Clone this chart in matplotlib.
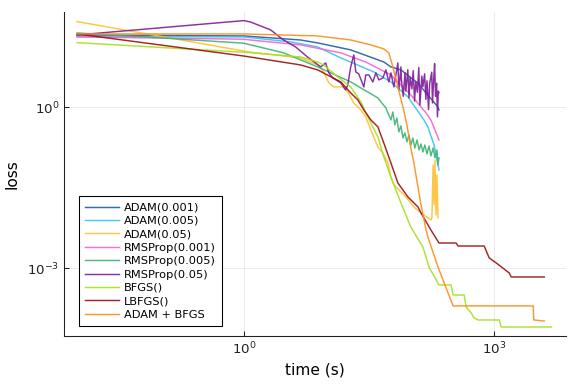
import numpy as np
import matplotlib.pyplot as plt
from matplotlib.ticker import NullLocator, LogFormatterMathtext

# values (time in s, loss)
adam1_t = [0.01, 1.0, 4.8, 7.7, 19.2, 48.0, 58.3, 76.9, 123, 214, 220]
adam1_l = [22.2, 21.3, 17.9, 15.8, 11.7, 6.96, 5.64, 4.96, 2.80, 1.01, 0.89]

adam2_t = [0.01, 1.0, 3.65, 7.7, 14.6, 36.4, 58.3, 93.3, 145, 162, 192, 220]
adam2_l = [20.7, 20.4, 16.5, 13.3, 8.29, 4.55, 2.96, 1.56, 0.58, 0.43, 0.198, 0.0679]

adam3_t = [0.01, 1.2, 4.8, 7.7, 9.08, 10.5, 12.0, 15.4, 17.7, 20.9, 25.4, 29.1,
           33.5, 40.7, 46.7, 53.6, 58.3, 63.3, 76.9, 88.3, 110, 134, 176, 181,
           187, 192, 197, 203, 208, 214]
adam3_l = [39.4, 10.6, 8.29, 6.14, 4.55, 2.84, 2.39, 2.39, 1.93, 1.20, 0.891, 0.659,
           0.378, 0.182, 0.141, 0.0917, 0.0503, 0.0357, 0.0264, 0.0213, 0.0139, 0.0107, 0.00795, 0.00866,
           0.0841, 0.0151, 0.104, 0.00985, 0.0548, 0.00866]

rms1_t = [0.01, 1.0, 1.2, 4.8, 14.6, 29.1, 58.3, 101, 154, 176, 220]
rms1_l = [20.4, 18.5, 17.9, 14.5, 10.3, 6.96, 4.0, 1.70, 0.783, 0.58, 0.246]

rms2_t = [0.01, 0.1, 1.0, 3.0, 7.7, 19.2, 25.4, 40.7, 50.7, 58.3, 61.5, 64.9,
          68.7, 72.6, 76.9, 81.3, 85.9, 90.8, 95.9, 101, 107, 113, 120, 127,
          134, 141, 149, 158, 167, 176, 187, 197, 208, 214, 220]
rms2_l = [24.2, 19.6, 15.6, 10.3, 5.64, 2.96, 2.29, 1.49, 0.97, 0.58, 0.817, 0.468,
          0.632, 0.347, 0.449, 0.268, 0.332, 0.226, 0.305, 0.198, 0.268, 0.174, 0.246, 0.160,
          0.207, 0.147, 0.198, 0.135, 0.190, 0.124, 0.174, 0.114, 0.160, 0.0841, 0.114]

rms3_t = [0.01, 1.0, 1.2, 2.10, 3.0, 4.19, 5.8, 8.4, 9.6, 10.5, 11.7, 14.6,
          16.7, 17.7, 19.2, 20.9, 22.1, 24.0, 27.6, 29.1, 31.7, 35.4, 38.5, 41.8,
          46.7, 50.7, 55.1, 58.3, 63.3, 70.7, 72.7, 76.9, 78, 82, 86, 88,
          93, 96, 99, 104, 108, 112, 116, 121, 126, 130, 137, 141,
          148, 153, 158, 165, 170, 180, 184, 190, 195, 200, 206, 211,
          216, 220]
rms3_l = [22.2, 41.1, 38.8, 27.6, 17.9, 13.3, 8.65, 5.64, 6.69, 4.36, 3.52, 2.83,
          2.10, 2.60, 5.64, 9.43, 4.55, 4.17, 2.39, 4.0, 4.0, 2.96, 4.36, 3.23,
          3.52, 4.96, 2.96, 4.36, 2.39, 6.69, 2.10, 5.64, 3.2, 1.6, 4.4, 2.0,
          5.0, 1.5, 3.6, 2.2, 4.8, 1.3, 3.0, 1.9, 5.5, 1.1, 3.8, 2.4,
          4.2, 1.4, 3.1, 0.9, 2.7, 4.5, 1.2, 3.3, 6.5, 1.6, 2.8, 0.66,
          2.0, 1.85]

bfgs_t = [0.01, 1.2, 4.8, 7.7, 9.08, 13.4, 19.2, 25.4, 30.8, 40.7, 47.9, 58.3,
          66.9, 76.9, 101, 141, 167, 220, 307, 325, 441, 466, 535, 581,
          649, 1162, 1228, 4910]
bfgs_l = [16.0, 10.4, 8.65, 6.98, 6.14, 3.67, 2.39, 1.26, 0.659, 0.280, 0.119, 0.0503,
          0.0288, 0.0165, 0.00589, 0.0025, 0.00106, 0.000489, 0.000489, 0.000318, 0.000318, 0.00019, 0.000147, 0.000119,
          0.000109, 0.000109, 8.06e-5, 8.06e-5]

lbfgs_t = [0.01, 1.0, 4.8, 7.7, 14.6, 19.2, 23.4, 27.6, 33.5, 40.7, 47.9, 58.3,
           70.7, 93.3, 123, 134, 176, 220, 353, 373, 767, 881, 1069, 1532,
           1620, 4043]
lbfgs_l = [23.2, 9.0, 6.14, 4.96, 2.96, 1.85, 1.37, 0.891, 0.58, 0.43, 0.216, 0.0917,
           0.0389, 0.0213, 0.0139, 0.0107, 0.00517, 0.00296, 0.00296, 0.0026, 0.0026, 0.00156, 0.00126, 0.000818,
           0.000689, 0.000689]

adbf_t = [0.01, 1.0, 7.7, 19.2, 33.5, 47.9, 55.1, 61.5, 70.7, 81.3, 90.8, 101,
          110, 134, 154, 162, 214, 283, 325, 2979, 3020, 4043]
adbf_l = [23.2, 23.2, 21.3, 17.9, 14.5, 12.2, 10.3, 5.64, 2.39, 1.01, 0.468, 0.174,
          0.0917, 0.0151, 0.00517, 0.00383, 0.00106, 0.000347, 0.000199, 0.000199, 0.000109, 0.000104]

series = [
    ("ADAM(0.001)", adam1_t, adam1_l, "#1f5c9e"),
    ("ADAM(0.005)", adam2_t, adam2_l, "#33c3f5"),
    ("ADAM(0.05)", adam3_t, adam3_l, "#ffbf30"),
    ("RMSProp(0.001)", rms1_t, rms1_l, "#ff5ccf"),
    ("RMSProp(0.005)", rms2_t, rms2_l, "#3cb371"),
    ("RMSProp(0.05)", rms3_t, rms3_l, "#7f1a99"),
    ("BFGS()", bfgs_t, bfgs_l, "#a4e01c"),
    ("LBFGS()", lbfgs_t, lbfgs_l, "#9b0e0e"),
    ("ADAM + BFGS", adbf_t, adbf_l, "#ff8c1a"),
]

fig = plt.figure(figsize=(6, 4), dpi=96)
ax = fig.add_axes([0.111, 0.125, 0.872, 0.844])

for name, t, l, c in series:
    ax.plot(t, l, color=c, lw=1.1, alpha=0.9, label=name)

ax.set_xscale("log")
ax.set_yscale("log")
ax.set_xlim(0.00695, 7400)
ax.set_ylim(5.48e-5, 59.7)
ax.set_xticks([1, 1000])
ax.set_yticks([1, 1e-3])
ax.xaxis.set_minor_locator(NullLocator())
ax.yaxis.set_minor_locator(NullLocator())
ax.xaxis.set_major_formatter(LogFormatterMathtext())
ax.yaxis.set_major_formatter(LogFormatterMathtext())
ax.tick_params(direction="in", length=4, width=0.8, labelsize=10, colors="#222222")
ax.grid(True, color="#e6e6e6", lw=0.6)
ax.set_axisbelow(True)
for s in ["top", "right"]:
    ax.spines[s].set_visible(False)
for s in ["left", "bottom"]:
    ax.spines[s].set_color("#222222")
ax.set_xlabel("time (s)", fontsize=11.5)
ax.set_ylabel("loss", fontsize=11.5, labelpad=6)

leg = ax.legend(loc="lower left", bbox_to_anchor=(0.03, 0.031), fontsize=8.5,
                fancybox=False, framealpha=1, edgecolor="black",
                handlelength=3.0, handletextpad=0.4, labelspacing=0.3,
                borderaxespad=0, borderpad=0.55)
leg.get_frame().set_linewidth(0.8)

fig.savefig("out.png")
